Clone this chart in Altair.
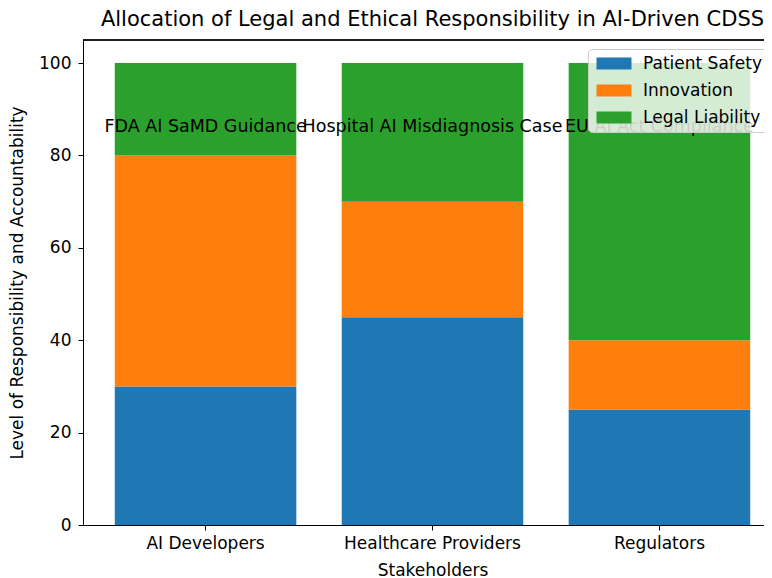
import altair as alt
import pandas as pd

stakeholders = ["AI Developers", "Healthcare Providers", "Regulators"]
categories = ["Patient Safety", "Innovation", "Legal Liability"]
patient_safety = [30, 45, 25]
innovation = [50, 25, 15]
legal_liability = [20, 30, 60]
annotations = ["FDA AI SaMD Guidance", "Hospital AI Misdiagnosis Case", "EU AI Act Compliance"]
annotation_y = [85, 85, 85]
colors = ["#1f77b4", "#ff7f0e", "#2ca02c"]

rows = []
for i, s in enumerate(stakeholders):
    for k, (cat, vals) in enumerate(zip(categories, [patient_safety, innovation, legal_liability])):
        rows.append({"Stakeholder": s, "Category": cat, "Value": vals[i], "order": k})
df = pd.DataFrame(rows)
ann = pd.DataFrame({"Stakeholder": stakeholders, "label": annotations, "y": annotation_y})

FONT = "DejaVu Sans"
PLOT_W = 681
RANGE_W = 699
PLOT_H = 485

xscale = alt.Scale(domain=stakeholders, range=[0, RANGE_W], paddingInner=0.2, paddingOuter=0.14)
yscale = alt.Scale(domain=[0, 105], nice=False, zero=True)

bars = alt.Chart(df).mark_bar().encode(
    x=alt.X("Stakeholder:N", scale=xscale, sort=stakeholders,
            axis=alt.Axis(title="Stakeholders", labelAngle=0, titleX=RANGE_W / 2)),
    y=alt.Y("Value:Q", stack="zero", scale=yscale,
            axis=alt.Axis(title="Level of Responsibility and Accountability", values=[0, 20, 40, 60, 80, 100])),
    color=alt.Color("Category:N", scale=alt.Scale(domain=categories, range=colors),
                    legend=alt.Legend(title=None)),
    order=alt.Order("order:Q", sort="ascending"),
)

texts = alt.Chart(ann).mark_text(font=FONT, fontSize=17.5, color="black", align="center",
                                 baseline="alphabetic").encode(
    x=alt.X("Stakeholder:N", scale=xscale, sort=stakeholders),
    y=alt.Y("y:Q", scale=yscale),
    text="label:N",
)

frame_top = alt.Chart(ann).mark_rule(color="black", strokeWidth=1).encode(
    x=alt.value(0), x2=alt.value(RANGE_W), y=alt.value(0)
)

chart = alt.layer(bars, texts, frame_top).properties(
    width=PLOT_W,
    height=PLOT_H,
    title=alt.TitleParams("Allocation of Legal and Ethical Responsibility in AI-Driven CDSS",
                          fontSize=21, fontWeight="normal", font=FONT, anchor="middle",
                          dx=9, offset=10, color="black"),
    autosize=alt.AutoSizeParams(type="none"),
    padding={"left": 75, "top": 32, "right": 0, "bottom": 56},
).configure_view(stroke=None).configure_axis(
    labelFont=FONT, titleFont=FONT, labelFontSize=17, titleFontSize=17,
    titleFontWeight="normal", labelColor="black", titleColor="black",
    domainColor="black", domainWidth=1, tickColor="black", tickSize=5, grid=False,
    labelPadding=5,
).configure_axisX(titlePadding=11).configure_axisY(titlePadding=12, labelPadding=7).configure_legend(
    orient="none", legendX=505, legendY=9, fillColor="rgba(255,255,255,0.8)",
    strokeColor="#cccccc", cornerRadius=4, padding=6,
    symbolType="M-1,-1L4.83,-1L4.83,1L-1,1Z", symbolSize=144,
    symbolStrokeWidth=0, symbolOpacity=1,
    labelFont=FONT, labelFontSize=17, labelColor="black", rowPadding=9, labelOffset=32,
    zindex=1,
)

chart.save("out.html", embed_options={"renderer": "svg", "actions": False})
